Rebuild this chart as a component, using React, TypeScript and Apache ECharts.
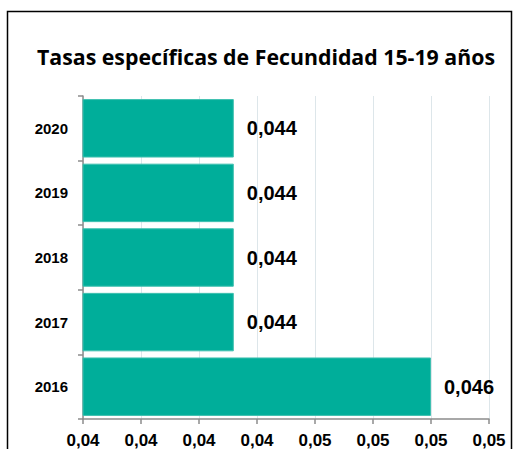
import React, { useEffect, useRef } from "react";
import * as echarts from "echarts";

const TITLE = "Tasas específicas de Fecundidad 15-19 años";
const years = ["2016", "2017", "2018", "2019", "2020"];
const rates = [0.0461, 0.0444, 0.0444, 0.0444, 0.0444];
const AXIS_MIN = 0.0431;
const AXIS_MAX = 0.0466;
const AXIS_STEP = 0.0005;

const fmt2 = (v: number) => v.toFixed(2).replace(".", ",");
const fmt3 = (v: number) => v.toFixed(3).replace(".", ",");

export default function App() {
  const ref = useRef<HTMLDivElement>(null);
  useEffect(() => {
    if (!ref.current) return;
    const chart = echarts.init(ref.current, undefined, { renderer: "svg" });
    chart.setOption({
      animation: false,
      backgroundColor: "#ffffff",
      title: {
        text: TITLE,
        left: 32,
        top: 41,
        textStyle: {
          fontFamily: "Open Sans",
          fontWeight: "bold",
          fontSize: 21.3,
          color: "#000000",
        },
      },
      graphic: [
        {
          type: "rect",
          shape: { x: 7.5, y: 11.5, width: 504, height: 460 },
          style: { fill: "none", stroke: "#000000", lineWidth: 1.5 },
          silent: true,
          z: 100,
        },
      ],
      grid: { left: 83, right: 24, top: 96, bottom: 30 },
      xAxis: {
        type: "value",
        min: AXIS_MIN,
        max: AXIS_MAX,
        interval: AXIS_STEP,
        axisLine: { show: true, lineStyle: { color: "#8c8c8c", width: 1.5 } },
        axisTick: { show: true, length: 5, lineStyle: { color: "#8c8c8c", width: 1.5 } },
        splitLine: { show: true, lineStyle: { color: "#dde6ea", width: 1 } },
        axisLabel: {
          formatter: (v: number) => fmt2(v),
          fontFamily: "Liberation Sans",
          fontWeight: "bold",
          fontSize: 17,
          color: "#000000",
          margin: 13,
        },
      },
      yAxis: {
        type: "category",
        data: years,
        axisLine: { show: true, lineStyle: { color: "#8c8c8c", width: 1.5 } },
        axisTick: { show: true, length: 5, lineStyle: { color: "#8c8c8c", width: 1.5 } },
        axisLabel: {
          fontFamily: "Liberation Sans",
          fontWeight: "bold",
          fontSize: 15,
          color: "#000000",
          margin: 15,
        },
      },
      series: [
        {
          type: "bar",
          data: rates,
          barCategoryGap: "9.5%",
          itemStyle: { color: "#00ae9a", borderColor: "#3fc0b0", borderWidth: 1 },
          label: {
            show: true,
            position: "right",
            distance: 13,
            formatter: (p: any) => fmt3(p.value),
            fontFamily: "Liberation Sans",
            fontWeight: "bold",
            fontSize: 20,
            color: "#000000",
          },
        },
      ],
    });
    return () => chart.dispose();
  }, []);
  return (
    <div
      ref={ref}
      style={{ position: "fixed", left: 0, top: 0, width: 513, height: 449 }}
    />
  );
}
